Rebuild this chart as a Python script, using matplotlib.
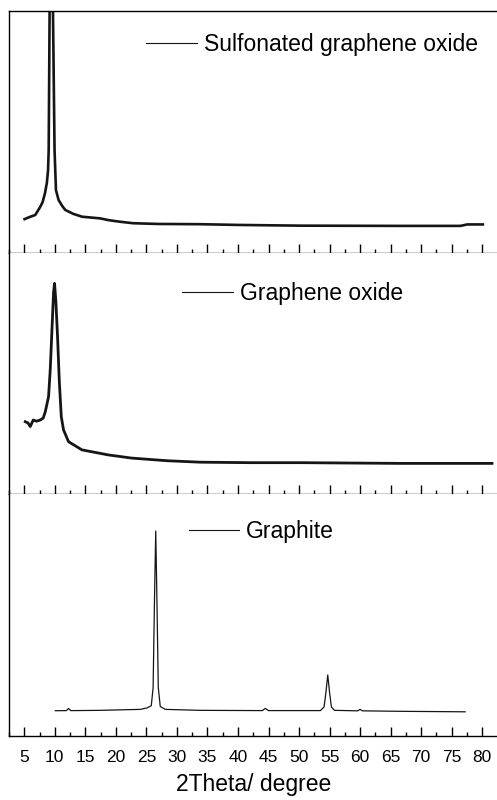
import matplotlib
matplotlib.use("Agg")
import matplotlib.pyplot as plt
from matplotlib.ticker import MultipleLocator

plt.rcParams['font.family'] = ['Liberation Sans', 'DejaVu Sans']

# ---- data (2theta in degree, intensity in % of panel height) ----
sgo_2theta = [5.05, 6.0, 6.8, 7.6, 8.0, 8.4, 8.7, 8.9, 9.0, 9.15, 9.42, 9.70, 9.96, 10.19,
              10.62, 11.2, 11.71, 13.0, 14.45, 17.44, 18.75, 20.72, 22.85, 27.0, 33.8,
              40.0, 50.2, 66.6, 76.4, 77.0, 77.5, 80.1]
sgo_int = [14.0, 15.0, 15.7, 19.0, 21.0, 24.8, 29.0, 34.3, 42.6, 100.0, 140.0, 100.0,
           42.6, 26.0, 21.9, 19.5, 17.8, 16.2, 15.0, 14.3, 13.6, 12.9, 12.3, 12.0, 11.9,
           11.6, 11.3, 11.2, 11.2, 11.5, 11.8, 11.8]

go_2theta = [5.16, 5.6, 5.98, 6.47, 7.0, 7.62, 8.1, 8.44, 8.98, 9.26, 9.54, 9.80, 9.96,
             10.19, 10.45, 10.73, 11.06, 11.43, 12.25, 14.45, 18.8, 22.6, 28.42, 33.82,
             42.0, 50.2, 66.6, 81.6]
go_int = [30.0, 29.5, 28.0, 30.7, 30.2, 30.7, 31.5, 34.1, 40.4, 51.9, 68.5, 83.8, 87.4,
          79.3, 65.3, 47.3, 32.1, 26.6, 21.7, 18.3, 16.2, 14.9, 13.8, 13.2, 13.0, 13.0,
          12.7, 12.7]

gr_2theta = [10.08, 11.9, 12.25, 12.6, 13.35, 17.4, 24.0, 25.1, 25.8, 26.1, 26.35,
             26.53, 26.7, 26.95, 27.27, 28.1, 33.8, 44.0, 44.46, 45.0, 50.2, 53.5,
             54.1, 54.4, 54.7, 55.0, 55.3, 55.8, 59.6, 60.0, 60.4, 66.6, 77.2]
gr_int = [10.45, 10.5, 11.4, 10.5, 10.5, 10.6, 11.0, 11.6, 12.5, 20.0, 60.0,
          84.7, 60.0, 20.0, 12.2, 11.0, 10.6, 10.5, 11.4, 10.5, 10.5, 10.5,
          12.0, 18.0, 25.2, 18.0, 12.0, 10.6, 10.4, 11.0, 10.4, 10.2, 10.0]

labels = ['Sulfonated graphene oxide', 'Graphene oxide', 'Graphite']
tick_vals = list(range(5, 85, 5))

fig = plt.figure(figsize=(4.97, 8.0), dpi=100)

# panel boxes in figure fraction (top to bottom)
left, width = 9 / 497, 488.5 / 497
bottoms = [1 - 253 / 800, 1 - 494 / 800, 1 - 736 / 800]
heights = [242 / 800, 241 / 800, 242 / 800]
# legend anchors (data x, axes y)
leg_pos = [(25.0, 0.86), (30.9, 0.83), (31.9, 0.847)]

series = [(sgo_2theta, sgo_int, 1.9), (go_2theta, go_int, 2.0), (gr_2theta, gr_int, 0.9)]

for i, ((xs, ys, lw), lab) in enumerate(zip(series, labels)):
    ax = fig.add_axes([left, bottoms[i], width, heights[i]])
    ax.plot(xs, ys, color='#151515', lw=lw, label=lab)
    ax.set_xlim(2.5, 82.5)
    ax.set_ylim(0, 100)
    ax.set_yticks([])
    ax.spines['right'].set_visible(False)
    if i > 0:
        ax.spines['top'].set_visible(False)
    for s in ax.spines.values():
        s.set_linewidth(1.0)
    ax.xaxis.set_major_locator(MultipleLocator(5))
    ax.xaxis.set_minor_locator(MultipleLocator(2.5))
    ax.tick_params(axis='x', which='major', direction='in', length=6.7, width=1.0, pad=10,
                   labelsize=12.5)
    ax.tick_params(axis='x', which='minor', direction='in', length=2.9, width=1.0)
    if i < 2:
        ax.tick_params(axis='x', labelbottom=False)
    else:
        ax.set_xticks(tick_vals)
        ax.set_xlabel('2Theta/ degree', fontsize=16.5, labelpad=6)

    lx, ly = leg_pos[i]
    tr = matplotlib.transforms.blended_transform_factory(ax.transData, ax.transAxes)
    leg = ax.legend(loc='center left', bbox_to_anchor=(lx, ly), bbox_transform=tr,
                    frameon=False, fontsize=16.5, handlelength=2.2, handletextpad=0.3,
                    borderpad=0, borderaxespad=0)
    for h in leg.get_lines():
        h.set_linewidth(0.8)

fig.savefig('out.png', dpi=100)
